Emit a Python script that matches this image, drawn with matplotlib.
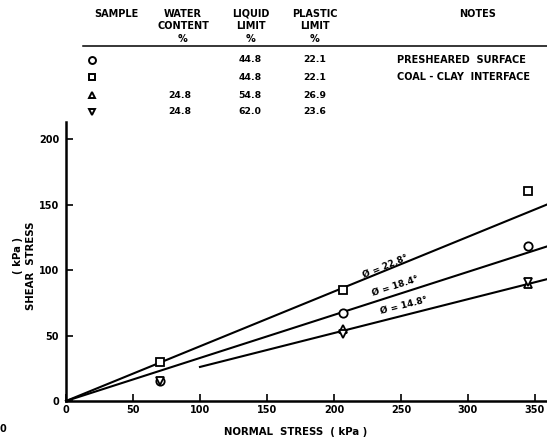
import matplotlib
matplotlib.use('Agg')
import matplotlib.pyplot as plt
import numpy as np

# table above the plot
sample_markers = ['o', 's', '^', 'v']
water_content = ['', '', '24.8', '24.8']
liquid_limit = ['44.8', '44.8', '54.8', '62.0']
plastic_limit = ['22.1', '22.1', '26.9', '23.6']
notes = ['PRESHEARED  SURFACE', 'COAL - CLAY  INTERFACE', '', '']

# measured points (normal stress, shear stress) in kPa
circle_x = [70, 207, 345]
circle_y = [15, 67, 118]
square_x = [70, 207, 345]
square_y = [30, 85, 160]
tri_up_x = [207, 345]
tri_up_y = [55, 89]
tri_down_x = [70, 207, 345]
tri_down_y = [15, 51, 91]

# fitted failure envelopes
fit_labels = ['Ø = 22.8°', 'Ø = 18.4°', 'Ø = 14.8°']
fit_x0 = [0, 0, 100]
fit_y0 = [0, 0, 26]
fit_x1 = [359, 359, 359]
fit_y1 = [150, 118, 93]
label_x = [238, 246, 252]
label_y = [103, 88, 73]

W, H = 547, 438


def fx(px):
    return px / W


def fy(py):
    return 1 - py / H


plt.rcParams['font.family'] = 'DejaVu Sans'
plt.rcParams['font.weight'] = 'bold'

fig = plt.figure(figsize=(W / 100, H / 100), dpi=100)
ax = fig.add_axes([fx(66), fy(401), (547 - 66) / W, (401 - 122) / H])

# ---- table ----
hfs = 7
tfs = 6.7
fig.text(fx(116), fy(14), 'SAMPLE', ha='center', va='center', fontsize=hfs)
for cx, lines in [(183, ['WATER', 'CONTENT', '%']),
                  (251, ['LIQUID', 'LIMIT', '%']),
                  (315, ['PLASTIC', 'LIMIT', '%'])]:
    for ly, t in zip([14, 26, 39], lines):
        fig.text(fx(cx), fy(ly), t, ha='center', va='center', fontsize=hfs)
fig.text(fx(478), fy(14), 'NOTES', ha='center', va='center', fontsize=hfs)
fig.add_artist(plt.Line2D([fx(83), fx(547)], [fy(46), fy(46)], color='black', lw=1.1))

row_y = [60, 77, 95, 112]
for i, ry in enumerate(row_y):
    fig.add_artist(plt.Line2D([fx(92)], [fy(ry)], marker=sample_markers[i], ms=5,
                              mfc='white', mec='black', mew=1.4, ls='none'))
    fig.text(fx(180), fy(ry), water_content[i], ha='center', va='center', fontsize=tfs)
    fig.text(fx(250), fy(ry), liquid_limit[i], ha='center', va='center', fontsize=tfs)
    fig.text(fx(315), fy(ry), plastic_limit[i], ha='center', va='center', fontsize=tfs)
    fig.text(fx(397), fy(ry), notes[i], ha='left', va='center', fontsize=7)

# ---- plot ----
for x0, y0, x1, y1 in zip(fit_x0, fit_y0, fit_x1, fit_y1):
    ax.plot([x0, x1], [y0, y1], color='black', lw=1.5, clip_on=False)

mk = dict(ls='none', mfc='white', mec='black', mew=1.3, ms=6, clip_on=False, zorder=3)
ax.plot(circle_x, circle_y, marker='o', **mk)
ax.plot(square_x, square_y, marker='s', **mk)
ax.plot(tri_up_x, tri_up_y, marker='^', **mk)
ax.plot(tri_down_x, tri_down_y, marker='v', **mk)

ax.set_xlim(0, 359)
ax.set_ylim(0, 213)

for i, t in enumerate(fit_labels):
    ang = np.degrees(np.arctan2(fit_y1[i] - fit_y0[i], fit_x1[i] - fit_x0[i]))
    ax.text(label_x[i], label_y[i], t, rotation=ang, transform_rotates_text=True,
            rotation_mode='anchor', ha='center', va='center', fontsize=6.5)

for s in ['top', 'right']:
    ax.spines[s].set_visible(False)
for s in ['left', 'bottom']:
    ax.spines[s].set_linewidth(1.8)

ax.set_xticks(np.arange(0, 351, 50))
ax.set_yticks(np.arange(0, 201, 50))
ax.tick_params(direction='in', length=5, width=1.2, labelsize=7, pad=3)
ax.tick_params(axis='y', pad=5)

fig.text(fx(296), fy(432), 'NORMAL  STRESS  ( kPa )', ha='center', va='center', fontsize=7.3)
fig.text(fx(31), fy(266), 'SHEAR  STRESS', ha='center', va='center', rotation=90, fontsize=7.3)
fig.text(fx(18), fy(256), '( kPa )', ha='center', va='center', rotation=90, fontsize=7.3)
fig.text(fx(0), fy(429), '0', ha='left', va='center', fontsize=7)

fig.savefig('out.png', dpi=100)
